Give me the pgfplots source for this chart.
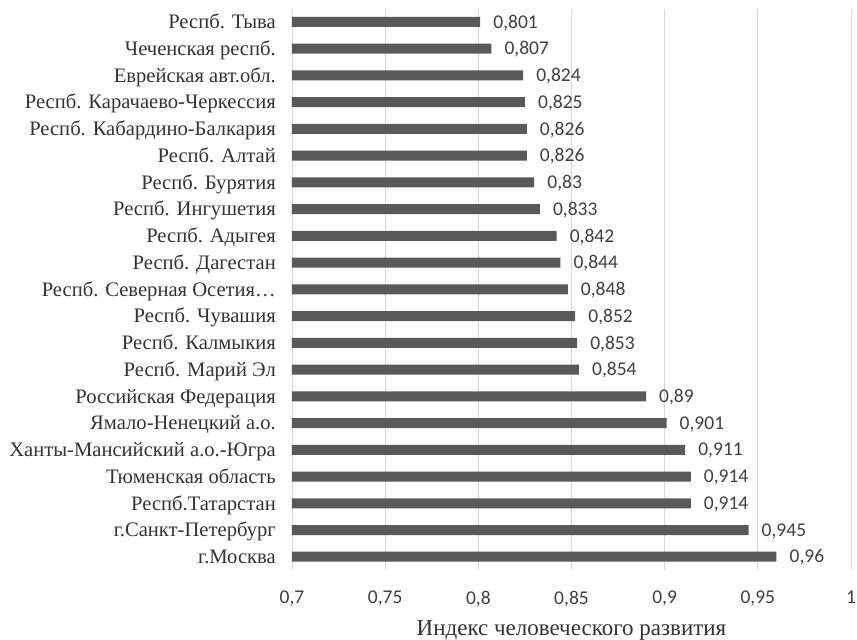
\documentclass[border=0pt]{standalone}
\usepackage{fontspec}
\setmainfont{Liberation Serif}
\newfontfamily\numfont{Carlito}
\usepackage{pgfplots}
\pgfplotsset{compat=1.18}
\definecolor{barc}{HTML}{595959}
\definecolor{gridc}{HTML}{D9D9D9}
\definecolor{txtc}{HTML}{404040}
\definecolor{labc}{HTML}{333333}
\begin{document}
\begin{tikzpicture}
\useasboundingbox (-292bp,-69.9bp) rectangle (565bp,570.1bp);
\begin{axis}[
  at={(0,0)}, anchor=south west,
  scale only axis,
  width=559bp, height=561.5bp,
  xbar, bar width=10bp,
  xmin=0.7, xmax=1,
  ymin=-0.5, ymax=20.5,
  y dir=reverse,
  xtick={0.7,0.75,...,1.0001},
  ytick={0,...,20},
  yticklabels={Респб. Тыва,Чеченская респб.,Еврейская авт.обл.,Респб. Карачаево-Черкессия,Респб. Кабардино-Балкария,Респб. Алтай,Респб. Бурятия,Респб. Ингушетия,Респб. Адыгея,Респб. Дагестан,Респб. Северная Осетия…,Респб. Чувашия,Респб. Калмыкия,Респб. Марий Эл,Российская Федерация,Ямало-Ненецкий а.о.,Ханты-Мансийский а.о.-Югра,Тюменская область,Респб.Татарстан,г.Санкт-Петербург,г.Москва},
  axis line style={draw=none},
  major tick length=0pt,
  xmajorgrids, grid style={gridc, line width=0.8bp},
  /pgf/number format/assume math mode=true,
  xticklabel={\pgfmathprintnumber[use comma,fixed,precision=2]{\tick}},
  xticklabel style={font=\numfont\fontsize{19.5bp}{22bp}\selectfont, text=txtc, anchor=north, inner sep=0pt, yshift=-21bp},
  yticklabel style={font=\fontsize{20.6bp}{22bp}\selectfont, text=labc, anchor=base east, inner sep=0pt, xshift=-16bp, yshift=-6.8bp},
  xlabel={Индекс человеческого развития},
  xlabel style={at={(axis description cs:0.5,0)}, anchor=north, inner sep=0pt, yshift=-49.7bp, font=\fontsize{23bp}{25bp}\selectfont, text=labc},
  point meta=x,
  nodes near coords={\pgfmathprintnumber[use comma,fixed,precision=3]{\pgfplotspointmeta}},
  nodes near coords style={font=\numfont\fontsize{19.5bp}{22bp}\selectfont, text=txtc, anchor=base west, inner sep=0pt, xshift=13bp, yshift=-6.2bp},
  clip=false,
]
\addplot[fill=barc, draw=none] coordinates {
(0.801,0) (0.807,1) (0.824,2) (0.825,3) (0.826,4) (0.826,5) (0.83,6)
(0.833,7) (0.842,8) (0.844,9) (0.848,10) (0.852,11) (0.853,12) (0.854,13)
(0.89,14) (0.901,15) (0.911,16) (0.914,17) (0.914,18) (0.945,19) (0.96,20)
};
\end{axis}
\end{tikzpicture}
\end{document}
